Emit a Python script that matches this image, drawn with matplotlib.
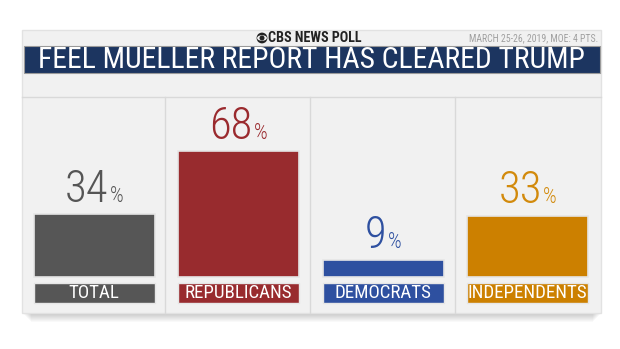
import matplotlib.pyplot as plt
from matplotlib.patches import Rectangle, Circle, Ellipse
from matplotlib.offsetbox import TextArea, HPacker, AnnotationBbox

# Poll data
categories = ["TOTAL", "REPUBLICANS", "DEMOCRATS", "INDEPENDENTS"]
values = [34, 68, 9, 33]
bar_colors = ["#565656", "#982b2e", "#2e50a0", "#cc8000"]
text_colors = ["#555555", "#9a2a2e", "#2e50a0", "#d28a0c"]

title = "FEEL MUELLER REPORT HAS CLEARED TRUMP"
source = "CBS NEWS POLL"
note = "MARCH 25-26, 2019, MOE: 4 PTS."

FONT = ["Roboto Condensed", "Roboto", "DejaVu Sans"]
W, H = 620, 349
PX = 1.853  # pixels per percentage point

fig = plt.figure(figsize=(W / 100, H / 100), dpi=100)
fig.patch.set_facecolor("white")

# background / frame drawn in pixel coordinates
bg = fig.add_axes([0, 0, 1, 1])
bg.set_xlim(0, W)
bg.set_ylim(H, 0)
bg.axis("off")

# soft shadow below the panel
for i in range(8):
    bg.add_patch(Rectangle((24 + i, 313), 576 - 2 * i, 2 + i, color="#000000", alpha=0.025, lw=0))
bg.add_patch(Rectangle((22, 30), 579, 283, facecolor="#f1f1f1", edgecolor="#e2e2e2", lw=1))
bg.add_patch(Rectangle((24, 46), 576, 27, facecolor="#1c3560", edgecolor="#9a9a9a", lw=0.8))
bg.plot([22, 601], [96.5, 96.5], color="#d9d9d9", lw=1)
for xd in [165, 310, 455]:
    bg.plot([xd, xd], [96.5, 313], color="#d9d9d9", lw=1)

bg.text(311, 60.5, title, color="white", fontsize=21.3, family=FONT, ha="center", va="center")

# CBS eye logo + header
bg.add_patch(Circle((262, 38), 5.4, facecolor="#222222", lw=0))
bg.add_patch(Ellipse((262, 38), 9.8, 5.6, facecolor="#f1f1f1", lw=0))
bg.add_patch(Circle((262, 38), 2.5, facecolor="#222222", lw=0))
bg.text(268, 38.5, source, color="#222222", fontsize=10.2, fontweight="bold", family=FONT,
        ha="left", va="center")
bg.text(598, 38.5, note, color="#a0a0a0", fontsize=7, family=FONT, ha="right", va="center")

# bar axes: baseline at y=277px, spanning the columns
top_px, bot_px, base_px = 96, 313, 277
ax = fig.add_axes([22 / W, (H - bot_px) / H, 578 / W, (bot_px - top_px) / H])
ax.set_xlim(-0.5, 3.5)
ax.set_ylim(-(bot_px - base_px) / PX, (base_px - top_px) / PX)
ax.axis("off")

x = list(range(len(categories)))
ax.bar(x, values, width=0.835, color=bar_colors, edgecolor="#e6e6e6", lw=1.2, zorder=3)

# category label boxes
lab_top = -6 / PX
lab_h = -20 / PX
ax.bar(x, lab_h, bottom=lab_top, width=0.835, color=bar_colors, edgecolor="#e6e6e6", lw=1.0, zorder=3)
for i, cat in enumerate(categories):
    ax.text(i, lab_top + lab_h / 2, cat, color="white", fontsize=13.6, family=FONT,
            ha="center", va="center", zorder=4)

# value labels: big number + small percent sign
for i, v in enumerate(values):
    num = TextArea(str(v), textprops=dict(color=text_colors[i], fontsize=32, fontweight="light",
                                          family=FONT))
    pct = TextArea("%", textprops=dict(color=text_colors[i], fontsize=15.5, fontweight="light",
                                       family=FONT))
    box = HPacker(children=[num, pct], align="baseline", pad=0, sep=1)
    ab = AnnotationBbox(box, (i, v), xybox=(0, 2.5), xycoords="data", boxcoords="offset points",
                        box_alignment=(0.5, 0), frameon=False, pad=0)
    ax.add_artist(ab)

fig.savefig("out.png", dpi=100)
